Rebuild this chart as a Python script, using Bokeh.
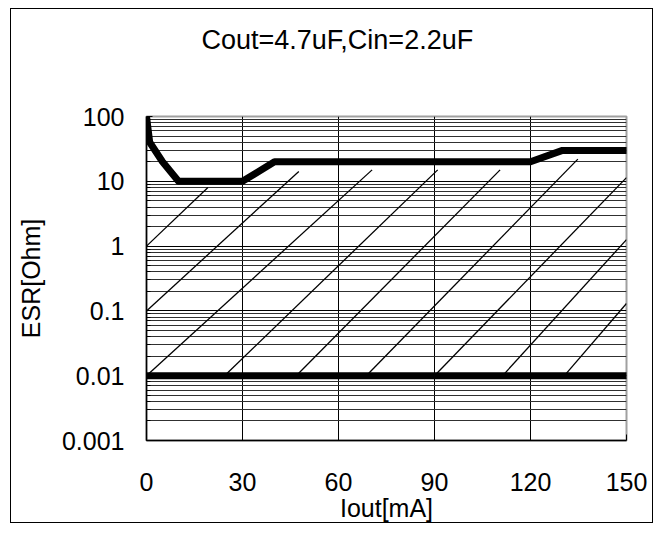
from bokeh.plotting import figure
from bokeh.models import FixedTicker, CustomJSTickFormatter, Range1d, Title
from bokeh.embed import file_html
from bokeh.resources import INLINE

title_text = "Cout=4.7uF,Cin=2.2uF"
x_label = "Iout[mA]"
y_label = "ESR[Ohm]"

x_ticks = [0, 30, 60, 90, 120, 150]
y_ticks = [0.001, 0.01, 0.1, 1, 10, 100]

# upper stability boundary
iout_upper = [0, 1, 5, 10, 30, 40, 120, 130, 150]
esr_upper = [100, 40, 20, 10, 10, 20, 20, 30, 30]

# lower stability boundary
iout_lower = [0, 150]
esr_lower = [0.01, 0.01]

# hatch lines of the stable region (start / end)
hatch_x0 = [0, 0, 0, 24.4, 46.8, 68.7, 90, 111.3, 130.6]
hatch_y0 = [1, 0.1, 0.01, 0.01, 0.01, 0.01, 0.01, 0.01, 0.01]
hatch_x1 = [19.2, 47.6, 70.5, 91, 110.5, 134.8, 150, 150, 150]
hatch_y1 = [8, 14.2, 15, 15, 15, 22, 11.4, 1.26, 0.13]

FONT = "Liberation Sans"

p = figure(width=643, height=515,
           x_range=Range1d(0, 150), y_range=Range1d(0.001, 100),
           y_axis_type="log",
           output_backend="svg", toolbar_location=None,
           min_border_left=135, min_border_right=28,
           min_border_top=107, min_border_bottom=84,
           background_fill_color="white", border_fill_color="white")
p.styles = {"border": "1px solid black", "margin-left": "10px", "margin-top": "8px"}

# spacer (closest to the frame), then the real title further out
p.add_layout(Title(text=" ", text_font=FONT, text_font_size="25px", standoff=32), "above")
p.add_layout(Title(text=title_text, text_font=FONT, text_font_size="27px",
                   text_font_style="normal", text_color="black",
                   align="left", offset=55, standoff=0, vertical_align="bottom"), "above")

p.outline_line_color = "#a0a0a0"
p.outline_line_width = 2

minor_y = [m * 10.0 ** e for e in range(-3, 2) for m in range(2, 10)]
p.yaxis.ticker = FixedTicker(ticks=y_ticks, minor_ticks=minor_y)
p.yaxis.formatter = CustomJSTickFormatter(code="return String(tick);")
p.xaxis.ticker = FixedTicker(ticks=x_ticks)

for ax in (p.xaxis[0], p.yaxis[0]):
    ax.axis_line_color = "black"
    ax.axis_line_width = 1.5
    ax.major_tick_in = 6
    ax.major_tick_out = 0
    ax.minor_tick_in = 4
    ax.minor_tick_out = 0
    ax.major_tick_line_color = "black"
    ax.minor_tick_line_color = "black"
    ax.major_label_text_font = FONT
    ax.major_label_text_font_size = "25px"
    ax.major_label_text_color = "black"
    ax.axis_label_text_font = FONT
    ax.axis_label_text_font_size = "25px"
    ax.axis_label_text_font_style = "normal"
    ax.axis_label_text_color = "black"

p.xaxis.axis_label = x_label
p.yaxis.axis_label = y_label
p.yaxis.major_label_standoff = 22
p.xaxis.major_label_standoff = 32
p.xaxis.axis_label_standoff = 0
p.yaxis.axis_label_standoff = 14

p.xgrid.grid_line_color = "black"
p.xgrid.grid_line_width = 1
p.ygrid.grid_line_color = "black"
p.ygrid.grid_line_width = 1
p.ygrid.minor_grid_line_color = "#303030"
p.ygrid.minor_grid_line_width = 1

p.segment(x0=hatch_x0, y0=hatch_y0, x1=hatch_x1, y1=hatch_y1,
          line_color="black", line_width=1.3)

p.line(iout_lower, esr_lower, line_color="black", line_width=7, line_cap="round")
p.line(iout_upper, esr_upper, line_color="black", line_width=7,
       line_cap="round", line_join="round")

open("out.html", "w").write(file_html(p, INLINE))
